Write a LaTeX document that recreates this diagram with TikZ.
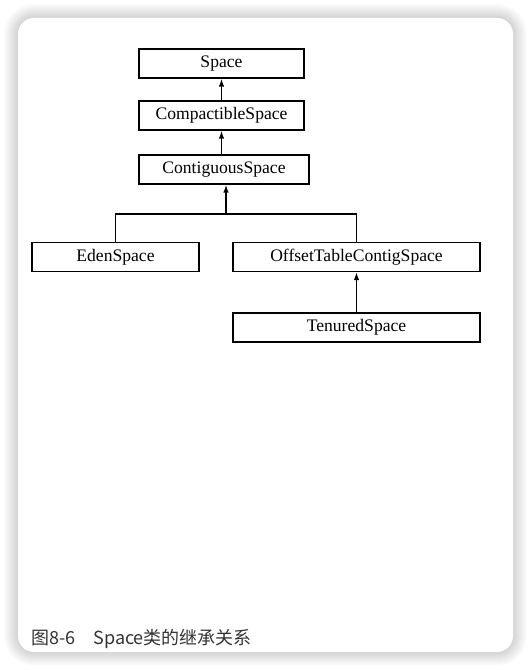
\documentclass[tikz,border=0pt]{standalone}
\usepackage{fontspec}
\setmainfont{Liberation Serif}
\newfontfamily\cjk{Noto Sans CJK SC}
\usetikzlibrary{arrows.meta}

\begin{document}
\begin{tikzpicture}[x=1bp,y=-1bp,>={Latex[length=8bp,width=5.5bp]},
  cls/.style={draw,line width=1.3bp,minimum height=29bp,inner sep=0pt,
    font=\fontsize{17.6bp}{20bp}\selectfont},
  inh/.style={->,line width=1.4bp}]
  % page and card
  \fill[white] (0,0) rectangle (532,670);
  \useasboundingbox (0,0) rectangle (532,670);
  \foreach \i in {1,...,14}
    \fill[black,opacity=0.011,rounded corners={16bp+\i bp}]
      (18-\i,18-\i) rectangle (513+\i,652+\i);
  \fill[white,rounded corners=16bp] (18,18) rectangle (513,652);
  % classes
  \node[cls,minimum width=165bp] (space) at (221.5,63.5) {Space};
  \node[cls,minimum width=165bp] (compact) at (221.5,115.5) {CompactibleSpace};
  \node[cls,minimum width=170bp] (contig) at (224,169.5) {ContiguousSpace};
  \node[cls,minimum width=167bp] (eden) at (115.5,257) {EdenSpace};
  \node[cls,minimum width=247bp] (offset) at (356.5,257) {OffsetTableContigSpace};
  \node[cls,minimum width=247bp] (tenured) at (356.5,327.5) {TenuredSpace};
  % inheritance
  \draw[inh] (compact.north -| space.south) -- (space.south);
  \draw[inh] (contig.north -| compact.south) -- (compact.south);
  \coordinate (split) at (226,214);
  \draw[line width=1.4bp] (eden.north) |- (offset.north |- split) -- (offset.north);
  \draw[inh] (split) -- (split |- contig.south);
  \draw[inh] (tenured.north) -- (offset.south);
  % caption
  \node[anchor=base west,inner sep=0pt,text=black!80,font=\cjk\fontsize{18bp}{20bp}\selectfont]
    (caption) at (31,644) {图8-6\hspace{1em}Space类的继承关系};
\end{tikzpicture}
\end{document}
